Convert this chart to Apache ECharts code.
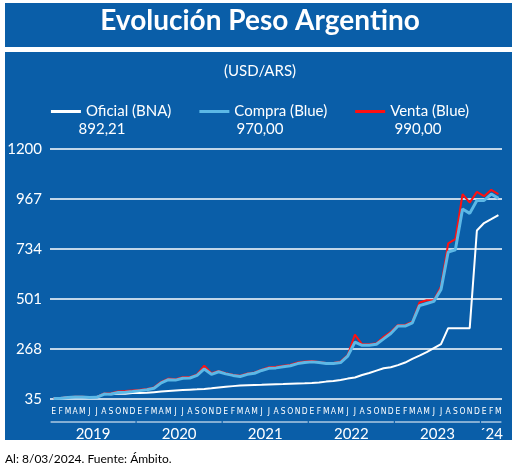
<!DOCTYPE html><html><head><meta charset="utf-8">
<script src="https://cdn.jsdelivr.net/npm/echarts@6/dist/echarts.min.js"></script>
<style>body{margin:0;background:#fff}#c{width:520px;height:471px}</style></head><body><div id="c"></div>
<script>
const months=['E','F','M','A','M','J','J','A','S','O','N','D'];
const years=['2019','2020','2021','2022','2023','´24'];
const categories=[];
for(let y=0;y<5;y++)for(const m of months)categories.push(m);
categories.push('E','F','M');
const oficial=[37.5,39,43,44.5,44.8,42.5,43.8,59,57.5,59.7,59.8,63,
63,64,67,70,72.5,74.5,76.5,78.5,80,82,85,89,
92,95,98,99.5,100.5,101.5,103,104,104.5,106,107.5,108.5,
110,112,116,119,124,130,135,147,156,167,178,183,
193,205,222,237,253,272,291,365,365,365,365,820,
855,873,892.21];
const compra=[37,39,42,44,44,42,43,57,58,65,67,70,
74,78,85,110,125,123,132,133,145,175,150,162,
152,145,140,150,155,168,178,180,185,190,200,205,
208,205,200,200,205,235,300,285,285,290,315,340,
375,375,390,470,480,490,545,720,730,920,900,960,
960,990,970];
const venta=[38,40,43,45,45,43,44,60,62,70,72,75,
78,82,89,115,130,127,136,137,150,190,155,166,
155,148,143,154,159,172,183,185,190,195,205,210,
212,208,203,203,210,240,335,290,290,295,325,348,
380,380,395,485,495,495,560,760,780,990,950,1000,
980,1010,990];
const values=['892,21','970,00','990,00'];
const ch=echarts.init(document.getElementById('c'));
const F='Lato';
const base=[
  {type:'rect',shape:{x:5,y:3,width:507,height:44},style:{fill:'#0a5ea8'},z:-10},
  {type:'text',left:'center',top:7,style:{text:'Evolución Peso Argentino',fill:'#fff',font:'bold 28px Lato'},z:10},
  {type:'rect',shape:{x:5,y:52,width:507,height:388},style:{fill:'#0a5ea8'},z:-10},
  {type:'text',left:'center',top:64,style:{text:'(USD/ARS)',fill:'#fff',font:'15px '+F},z:10},
  {type:'text',x:102,y:122,style:{text:values[0],fill:'#fff',font:'15px '+F,align:'center'},z:10},
  {type:'text',x:260,y:122,style:{text:values[1],fill:'#fff',font:'15px '+F,align:'center'},z:10},
  {type:'text',x:418,y:122,style:{text:values[2],fill:'#fff',font:'15px '+F,align:'center'},z:10},
  {type:'text',x:5,y:453,style:{text:'Al: 8/03/2024. Fuente: Ámbito.',fill:'#000',font:'12px '+F},z:10}
];
ch.setOption({
 animation:false,
 legend:{top:99,left:'center',itemGap:28,itemWidth:30,itemHeight:3,icon:'rect',
  textStyle:{color:'#fff',fontSize:15,fontFamily:F},
  data:['Oficial (BNA)','Compra (Blue)','Venta (Blue)']},
 grid:{left:50,right:18,top:149,bottom:72},
 xAxis:{type:'category',data:categories,boundaryGap:true,
  axisLine:{show:false},axisTick:{show:false},
  axisLabel:{interval:0,hideOverlap:false,color:'#fff',fontSize:8.5,fontFamily:'DejaVu Sans Condensed',margin:8}},
 yAxis:{type:'value',min:35,max:1200,interval:233,
  axisLine:{show:false},axisTick:{show:false},
  axisLabel:{color:'#fff',fontSize:15,fontFamily:F,margin:8,formatter:v=>String(v)},
  splitLine:{lineStyle:{color:'#fff',width:1.5}}},
 series:[
  {name:'Oficial (BNA)',type:'line',data:oficial,symbol:'none',lineStyle:{color:'#fff',width:2},itemStyle:{color:'#fff'},z:3},
  {name:'Venta (Blue)',type:'line',data:venta,symbol:'none',lineStyle:{color:'#ff1010',width:2},itemStyle:{color:'#ff1010'},z:4},
  {name:'Compra (Blue)',type:'line',data:compra,symbol:'none',lineStyle:{color:'#5cb8e6',width:3},itemStyle:{color:'#5cb8e6'},z:5}
 ]
});
const g=[];
for(let y=0;y<6;y++){
 const a=y*12, b=Math.min(y*12+11,62);
 const xa=ch.convertToPixel({xAxisIndex:0},a)-3, xb=ch.convertToPixel({xAxisIndex:0},b)+3;
 g.push({type:'line',shape:{x1:xa,y1:422,x2:xb,y2:422},style:{stroke:'#fff',lineWidth:1},z:10});
 g.push({type:'text',x:(xa+xb)/2,y:427,style:{text:years[y],fill:'#fff',font:'15px '+F,align:'center'},z:10});
}
ch.setOption({graphic:{elements:base.concat(g)}});
</script></body></html>
